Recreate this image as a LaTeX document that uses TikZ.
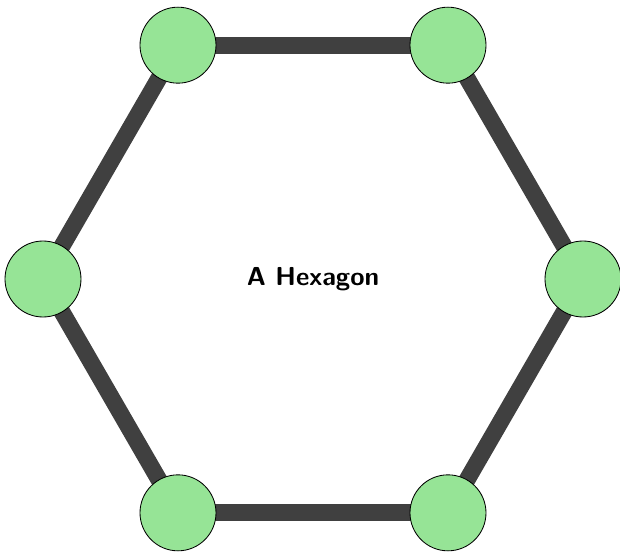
\documentclass[tikz,border=0pt]{standalone}
\usepackage{xcolor}
\usepackage{tikz}
\usetikzlibrary{positioning}

\definecolor{vertgreen}{RGB}{150,228,150}
\definecolor{edgegray}{RGB}{64,64,64}

\begin{document}
\begin{tikzpicture}[
    vert/.style={
      draw, circle, fill=vertgreen, line width=0.6pt,
      minimum size=1.9cm, inner sep=0pt
    },
    edge/.style={draw=edgegray, line width=0.42cm},
    title/.style={font=\fontsize{18.5}{22}\selectfont\sffamily\bfseries}
  ]
    \useasboundingbox (-7.825,-6.85) rectangle (7.675,6.975);

    % ── Corner points ──
    \coordinate (p0) at (0:6.75cm);
    \coordinate (p1) at (60:6.75cm);
    \coordinate (p2) at (120:6.75cm);
    \coordinate (p3) at (180:6.75cm);
    \coordinate (p4) at (240:6.75cm);
    \coordinate (p5) at (300:6.75cm);

    % ── Edges ──
    \path[edge] (p0) -- (p1);
    \path[edge] (p1) -- (p2);
    \path[edge] (p2) -- (p3);
    \path[edge] (p3) -- (p4);
    \path[edge] (p4) -- (p5);
    \path[edge] (p5) -- (p0);

    % ── Vertices ──
    \node[vert] (v0) at (p0) {};
    \node[vert] (v1) at (p1) {};
    \node[vert] (v2) at (p2) {};
    \node[vert] (v3) at (p3) {};
    \node[vert] (v4) at (p4) {};
    \node[vert] (v5) at (p5) {};

    \node[title] (label) at (0,0) {A Hexagon};

  \end{tikzpicture}
\end{document}
